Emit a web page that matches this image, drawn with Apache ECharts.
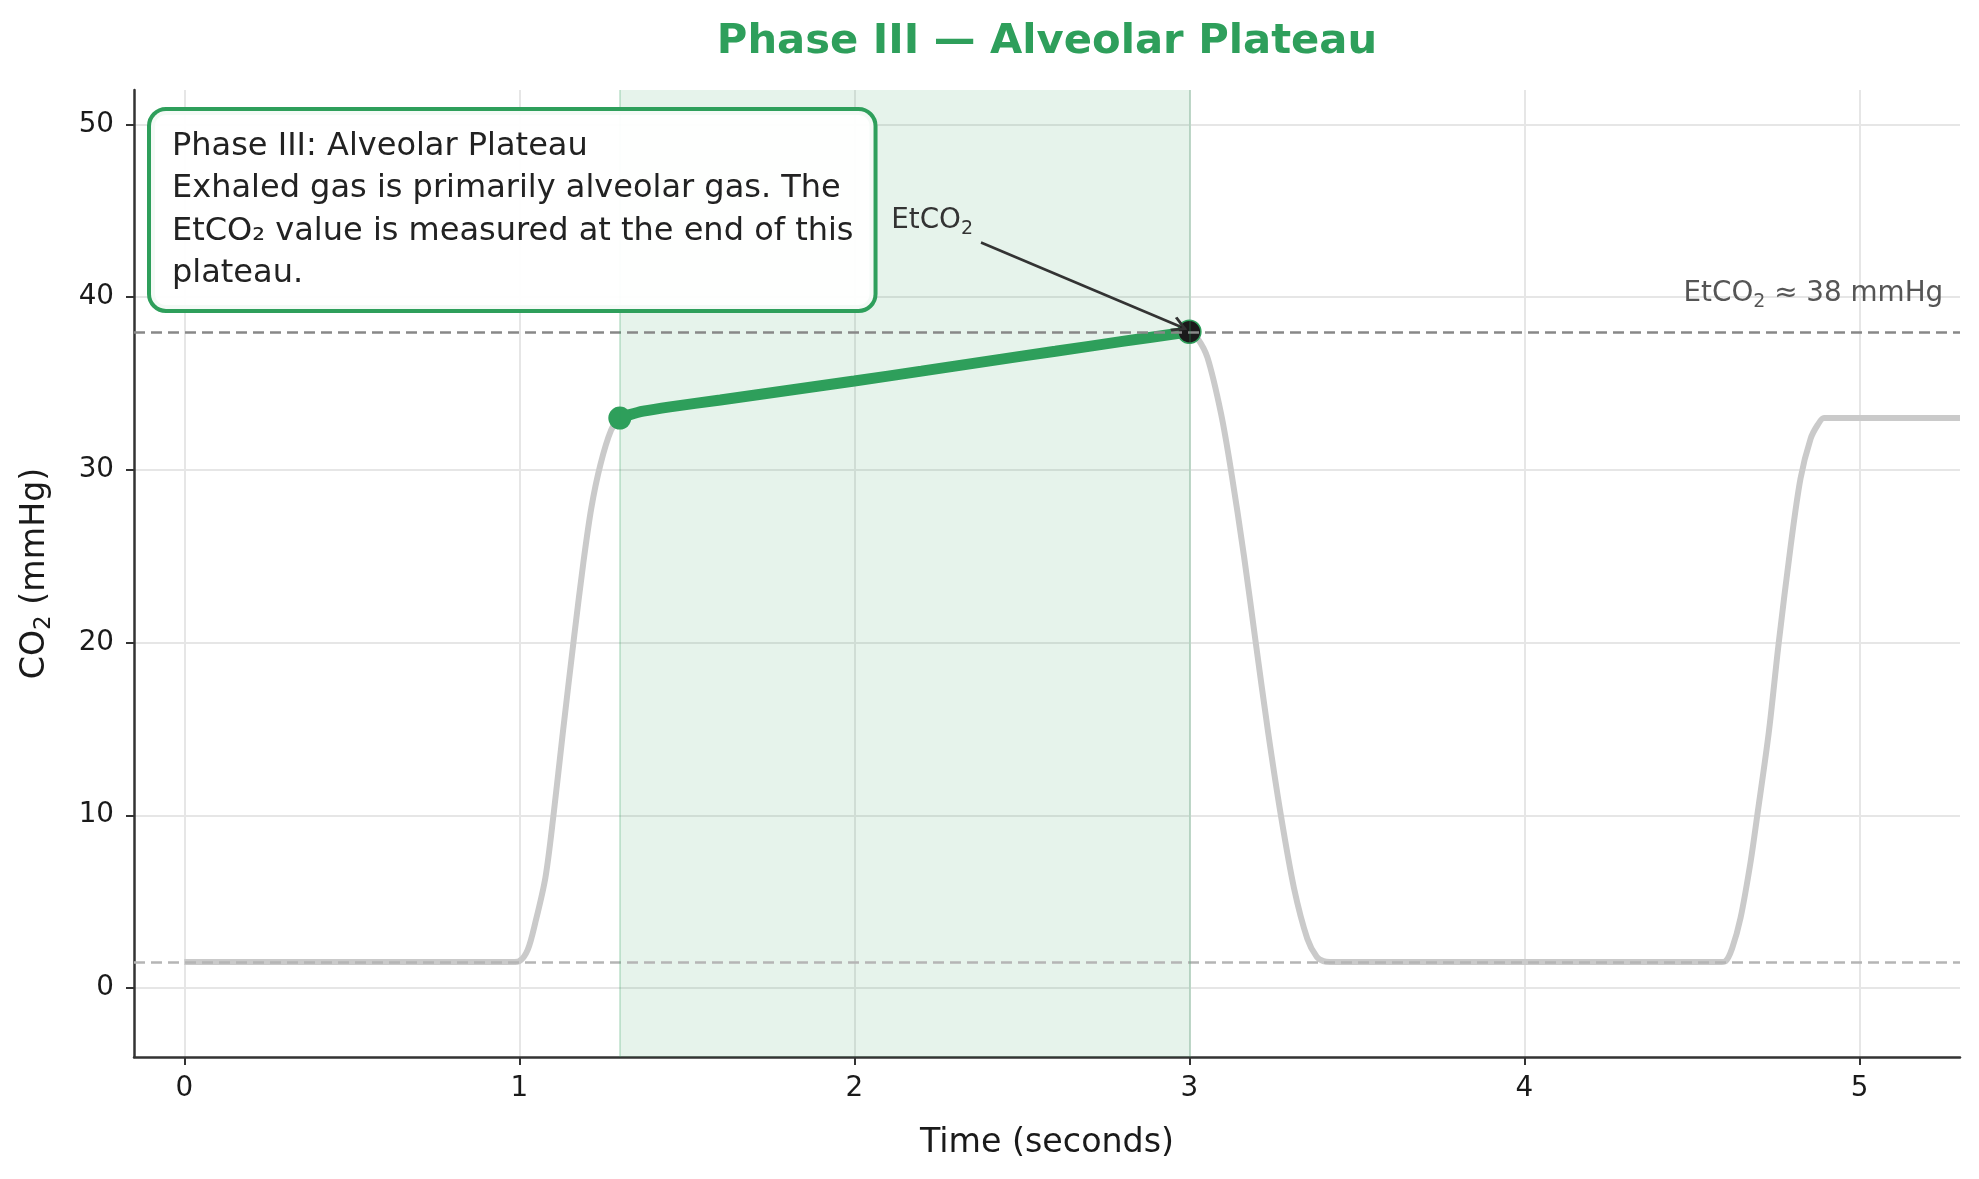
<!DOCTYPE html>
<html>
<head>
<meta charset="utf-8">
<title>Phase III — Alveolar Plateau</title>
<script src="https://cdn.jsdelivr.net/npm/echarts@6/dist/echarts.min.js"></script>
<style>
  html, body { margin: 0; padding: 0; background: #fff; }
  #main { width: 1979px; height: 1179px; }
</style>
</head>
<body>
<div id="main"></div>
<script>
var FONT = 'DejaVu Sans';
var GREEN = '#2e9f5b';

// reference levels (mmHg) and the phase III window (s)
var baselineCO2 = 1.5;
var etco2 = 38;
var phaseStart = 1.3, phaseEnd = 3.0;

// capnogram trace: time (s) / CO2 (mmHg)
var riseT = [0.0, 0.98, 1.0, 1.025, 1.048, 1.078, 1.102, 1.13, 1.164, 1.191, 1.215, 1.242, 1.274];
var riseV = [1.5, 1.5, 1.55, 2.2, 3.8, 6.4, 10.0, 14.8, 20.4, 24.6, 27.8, 30.3, 32.3];
var plateauT = [1.3, 1.33, 1.37, 1.45, 1.6, 1.8, 2.0, 2.2, 2.4, 2.6, 2.8, 3.0];
var plateauV = [33.0, 33.2, 33.4, 33.65, 34.05, 34.6, 35.15, 35.72, 36.3, 36.87, 37.44, 38.0];
var fallT = [3.025, 3.054, 3.094, 3.124, 3.163, 3.198, 3.235, 3.273, 3.312, 3.352, 3.38, 3.4, 3.42, 4.58];
var fallV = [37.6, 36.5, 33.3, 30.0, 25.0, 20.0, 14.8, 10.0, 5.8, 2.85, 1.8, 1.55, 1.5, 1.5];
var rise2T = [4.6, 4.62, 4.645, 4.675, 4.695, 4.729, 4.759, 4.794, 4.824, 4.854, 4.875, 4.894, 4.92, 5.3];
var rise2V = [1.55, 2.3, 4.05, 7.3, 10.0, 14.75, 20.0, 25.5, 29.5, 31.8, 32.6, 33.0, 33.0, 33.0];

var xTicks = [0, 1, 2, 3, 4, 5];
var yTicks = [0, 10, 20, 30, 40, 50];

// annotation anchors in data units
var etLabelAt = [2.11, 44.4];
var arrowFrom = [2.378, 43.17];
var arrowTo = [2.972, 38.3];
var etRefAt = [5.25, 40.2];

var boxLines = [
  'Phase III: Alveolar Plateau',
  'Exhaled gas is primarily alveolar gas. The',
  'EtCO₂ value is measured at the end of this',
  'plateau.'
];

function pairs(t, v) {
  var out = [];
  for (var i = 0; i < t.length; i++) out.push([t[i], v[i]]);
  return out;
}

var wave = pairs(riseT, riseV)
  .concat(pairs(plateauT, plateauV))
  .concat(pairs(fallT, fallV))
  .concat(pairs(rise2T, rise2V));
var plateau = pairs(plateauT, plateauV);
var last = plateauT.length - 1;

// open arrow head, tip up
var chevron = 'path://M0,0 L6,8.5 L4.4,9.6 L0,3.4 L-4.4,9.6 L-6,8.5 Z';

var chart = echarts.init(document.getElementById('main'));

var axisCommon = {
  type: 'value',
  axisLine: { show: true, onZero: false, lineStyle: { color: '#333', width: 2.5 } },
  axisTick: { show: true, length: 8, lineStyle: { color: '#333', width: 2 } },
  splitLine: { show: true, lineStyle: { color: '#e6e6e6', width: 2 } },
  nameLocation: 'middle'
};

var option = {
  backgroundColor: '#fff',
  animation: false,
  textStyle: { fontFamily: FONT },
  grid: { left: 134, right: 19, top: 90, bottom: 122 },
  xAxis: echarts.util.merge({
    min: -0.15, max: 5.3,
    axisTick: { customValues: xTicks },
    axisLabel: { customValues: xTicks, fontSize: 27.8, color: '#1a1a1a', margin: 18, fontFamily: FONT },
    name: 'Time (seconds)',
    nameGap: 70,
    nameTextStyle: { fontSize: 33.3, color: '#1a1a1a', fontFamily: FONT }
  }, axisCommon),
  yAxis: echarts.util.merge({
    min: -4, max: 52,
    axisTick: { customValues: yTicks },
    axisLabel: { customValues: yTicks, fontSize: 27.8, color: '#1a1a1a', margin: 20, fontFamily: FONT },
    name: '{m|CO}{s|2}{m| (mmHg)}',
    nameGap: 78,
    nameTextStyle: {
      rich: {
        m: { fontSize: 33.3, lineHeight: 42, color: '#1a1a1a', fontFamily: FONT },
        s: { fontSize: 23, lineHeight: 23, verticalAlign: 'bottom', color: '#1a1a1a', fontFamily: FONT }
      }
    }
  }, axisCommon),
  series: [
    {
      // reference lines and shaded phase window
      type: 'line',
      data: [],
      z: 1,
      silent: true,
      markArea: {
        silent: true,
        itemStyle: { color: 'rgba(46,159,91,0.12)' },
        data: [[{ xAxis: phaseStart }, { xAxis: phaseEnd }]]
      },
      markLine: {
        silent: true,
        symbol: 'none',
        label: { show: false },
        data: [
          { yAxis: etco2, lineStyle: { color: '#888', type: [11, 6], width: 2.5 } },
          { yAxis: baselineCO2, lineStyle: { color: '#b5b5b5', type: [11, 6], width: 2.5 } },
          { xAxis: phaseStart, lineStyle: { color: 'rgba(46,159,91,0.22)', type: 'solid', width: 2 } },
          { xAxis: phaseEnd, lineStyle: { color: 'rgba(46,159,91,0.22)', type: 'solid', width: 2 } }
        ]
      }
    },
    {
      type: 'line',
      data: wave,
      z: 2,
      smooth: 0.3,
      showSymbol: false,
      symbol: 'none',
      lineStyle: { color: '#cacaca', width: 6 }
    },
    {
      type: 'line',
      data: plateau,
      z: 3,
      smooth: 0.3,
      symbol: 'none',
      lineStyle: { color: GREEN, width: 11, cap: 'round' }
    },
    {
      type: 'scatter',
      z: 4,
      symbolSize: 23,
      itemStyle: { opacity: 1 },
      data: [
        { value: [plateauT[0], plateauV[0]], itemStyle: { color: GREEN, opacity: 1 } },
        { value: [plateauT[last], plateauV[last]], itemStyle: { color: '#1a1a1a', borderColor: GREEN, borderWidth: 1.5, opacity: 1 } }
      ],
      markLine: {
        silent: true,
        symbol: ['none', chevron],
        symbolSize: 16,
        label: { show: false },
        lineStyle: { color: '#333', width: 2.6, type: 'solid' },
        data: [[{ coord: arrowFrom }, { coord: arrowTo }]]
      }
    }
  ]
};

chart.setOption(option);

var pFrom = chart.convertToPixel({ gridIndex: 0 }, [-0.15, 52]);
var pTo = chart.convertToPixel({ gridIndex: 0 }, [5.3, -4]);
var pEt = chart.convertToPixel({ gridIndex: 0 }, etLabelAt);
var pRef = chart.convertToPixel({ gridIndex: 0 }, etRefAt);

var subRich = function (size, color) {
  return {
    m: { fontSize: size, lineHeight: Math.round(size * 1.25), fill: color, fontFamily: FONT },
    s: { fontSize: Math.round(size * 0.7), lineHeight: Math.round(size * 0.7), verticalAlign: 'bottom', fill: color, fontFamily: FONT }
  };
};

chart.setOption({
  graphic: [
    {
      type: 'text', z: 100,
      x: (pFrom[0] + pTo[0]) / 2, y: 42,
      style: {
        text: 'Phase III — Alveolar Plateau',
        fill: GREEN, fontSize: 41.7, fontWeight: 'bold', fontFamily: FONT,
        align: 'center', verticalAlign: 'middle'
      }
    },
    {
      type: 'text', z: 100,
      x: 151, y: 111,
      style: {
        text: boxLines.join('\n'),
        fill: '#222', fontSize: 32, lineHeight: 42.5, fontFamily: FONT,
        align: 'left', verticalAlign: 'top',
        backgroundColor: 'rgba(255,255,255,0.95)',
        borderColor: GREEN, borderWidth: 4, borderRadius: 15,
        padding: [14, 20, 14, 21]
      }
    },
    {
      type: 'text', z: 100,
      x: pEt[0], y: pEt[1],
      style: {
        text: '{m|EtCO}{s|2}',
        rich: subRich(27.8, '#333'),
        align: 'left', verticalAlign: 'middle'
      }
    },
    {
      type: 'text', z: 100,
      x: pRef[0], y: pRef[1],
      style: {
        text: '{m|EtCO}{s|2}{m| ≈ 38 mmHg}',
        rich: subRich(27.8, '#555'),
        align: 'right', verticalAlign: 'middle'
      }
    }
  ]
});
</script>
</body>
</html>
